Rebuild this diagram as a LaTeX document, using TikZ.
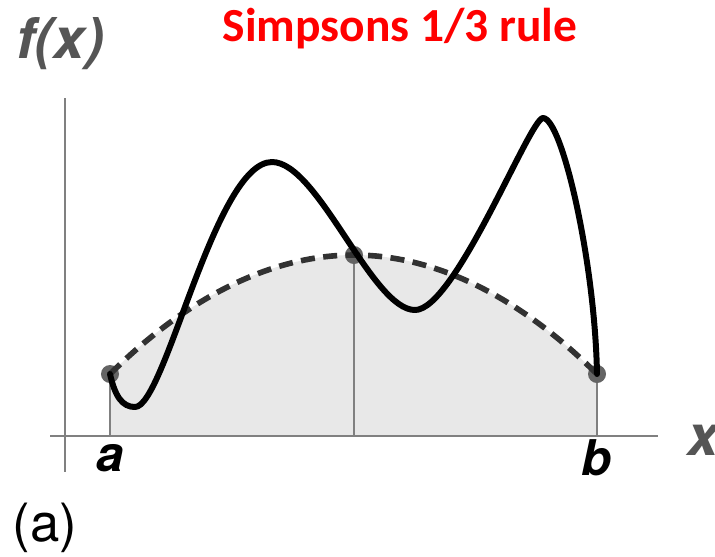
\documentclass[tikz,border=0pt]{standalone}
\usepackage{fontspec}
\usepackage{xcolor}
\usetikzlibrary{math}
\newfontfamily\herosfont{TeX Gyre Heros}
\newfontfamily\carlitofont{Carlito}
\definecolor{axisgray}{RGB}{128,128,128}
\definecolor{dotgray}{RGB}{100,100,100}
\definecolor{labelgray}{RGB}{85,85,85}
\definecolor{areagray}{RGB}{232,232,232}
\definecolor{dashgray}{RGB}{50,50,50}
\definecolor{titlered}{RGB}{255,0,0}

\begin{document}
\begin{tikzpicture}[x=0.01cm,y=-0.01cm]
\tikzmath{
\xa=110;
\xm=354;
\xb=597;
\ya=374;
\ym=255;
\yaxis=436;
}
\useasboundingbox (0,0) rectangle (715,556);
\tikzset{
  axisline/.style={draw=axisgray, line width=0.7pt},
  ordline/.style={draw=axisgray, line width=0.75pt},
  samplept/.style={circle, fill=dotgray, inner sep=0pt, minimum size=0.18cm},
  axislabel/.style={text=labelgray, font=\herosfont\bfseries\itshape\fontsize{16}{18}\selectfont},
  endlabel/.style={text=black, font=\herosfont\bfseries\itshape\fontsize{14}{16}\selectfont}
}

\coordinate (a) at (\xa,\ya);
\coordinate (m) at (\xm,\ym);
\coordinate (b) at (\xb,\ya);
\coordinate (a0) at (\xa,\yaxis);
\coordinate (m0) at (\xm,\yaxis);
\coordinate (b0) at (\xb,\yaxis);

% area under the parabola
\fill[color=areagray] (a) parabola bend (m) (b) -- (b0) -- (a0) -- cycle;

% axes
\coordinate (xstart) at (50,\yaxis);
\coordinate (xend) at (658,\yaxis);
\coordinate (ystart) at (65,98);
\coordinate (yend) at (65,472);
\draw[axisline] (xstart) -- (xend);
\draw[axisline] (ystart) -- (yend);

% ordinates
\draw[ordline] (a) -- (a0);
\draw[ordline] (m) -- (m0);
\draw[ordline] (b) -- (b0);

% sample points
\node[samplept] (pa) at (a) {};
\node[samplept] (pm) at (m) {};
\node[samplept] (pb) at (b) {};

% parabola through the three points
\draw[color=dashgray, line width=1.6pt, dash pattern=on 4pt off 2.4pt] (a) parabola bend (m) (b);

% the function
\draw[line width=1.7pt, line cap=round, line join=round] (a)
  .. controls (115,396) and (122,407) .. (135,407)
  .. controls (165,407) and (215,162) .. (272,162)
  .. controls (318,162) and (372,310) .. (415,310)
  .. controls (455,310) and (530,118) .. (543,118)
  .. controls (562,118) and (595,262) .. (b);

% labels
\node[axislabel] (fx) at (60,44) {f(x)};
\node[axislabel] (xl) at (703,440) {x};
\node[endlabel] (la) at (\xa,458) {a};
\node[endlabel] (lb) at (\xb,458) {b};
\node[font=\herosfont\fontsize{15}{18}\selectfont] (part) at (45,528) {(a)};
\node[text=titlered, font=\carlitofont\bfseries\fontsize{13.5}{16}\selectfont] (title) at (400,29) {Simpsons 1/3 rule};
\end{tikzpicture}
\end{document}
